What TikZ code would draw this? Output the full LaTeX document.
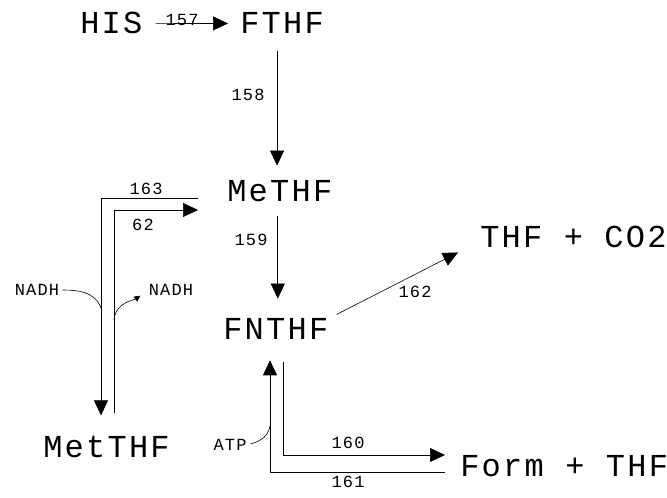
\documentclass[tikz,border=0pt]{standalone}
\usepackage{fontspec}
\newfontfamily\plotfont{Liberation Mono}[LetterSpace=7]
\newcommand{\bigplot}{\plotfont\fontsize{32}{32}\selectfont}
\newcommand{\smallplot}{\plotfont\fontsize{17}{17}\selectfont}
\usetikzlibrary{arrows.meta}

\begin{document}
\begin{tikzpicture}[x=1pt, y=1pt, line width=0.6pt,
      every node/.style={inner sep=0pt},
      chem/.style={font=\bigplot, anchor=base west},
      enz/.style={font=\smallplot},
      react/.style={-{Triangle[length=15pt, width=14pt]}},
      cofac/.style={-{Triangle[length=6pt, width=6pt]}}]
    \useasboundingbox (0,0) rectangle (667,498);
    \node[chem] (his) at (80,464) {HIS};
    \node[chem] (fthf) at (240,464) {FTHF};
    \node[chem] (methf) at (227,296) {MeTHF};
    \node[chem] (fnthf) at (223,158) {FNTHF};
    \node[chem] (thfco) at (480,250) {THF + CO2};
    \node[chem] (form) at (460,21) {Form + THF};
    \node[chem] (metthf) at (43,40) {MetTHF};
    \node[enz] (nadhL) at (37,208) {NADH};
    \node[enz] (nadhR) at (171,208) {NADH};
    \node[enz] (atp) at (230,53) {ATP};
    \coordinate (c163) at (101,300);
    \coordinate (c62) at (114,288);
    \coordinate (c160) at (283,43);
    \coordinate (c161) at (270,26);
    \coordinate (nadhin) at (101,190);
    \coordinate (nadhout) at (114,178);
    \coordinate (atpin) at (270,72);
    \draw[react, shorten <=13pt, shorten >=12pt] (his.east) -- (fthf.west);
    \draw[react, shorten <=17pt, shorten >=15pt] ([xshift=-5pt]fthf.south)
      -- ([xshift=-5pt]fthf.south |- methf.north);
    \draw[react, shorten <=13pt, shorten >=20pt] ([xshift=-2pt]methf.south)
      -- ([xshift=-2pt]methf.south |- fnthf.north);
    \draw[react] ([shift={(8pt,15pt)}]fnthf.east) -- ([shift={(-22pt,-15pt)}]thfco.west);
    \draw[react, shorten <=29pt, shorten >=21pt] (methf.west |- c163) -- (c163)
      -- (c163 |- metthf.north);
    \draw[react, shorten <=23pt, shorten >=29pt] (c62 |- metthf.north) -- (c62)
      -- (methf.west |- c62);
    \draw[react, shorten <=22pt, shorten >=15pt] (c160 |- fnthf.south) -- (c160)
      -- (form.west |- c160);
    \draw[react, shorten <=15pt, shorten >=20pt] (form.west |- c161) -- (c161)
      -- (c161 |- fnthf.south);
    \draw[shorten <=3pt] (nadhL.east) to[out=0, in=110] (nadhin);
    \draw[cofac, shorten >=10pt] (nadhout) to[out=85, in=215] (nadhR.west);
    \draw[shorten <=4pt] (atp.east) to[out=15, in=-100] (atpin);
    \node[enz] (l157) at (182,478) {157};
    \node[enz] (l158) at (248,403) {158};
    \node[enz] (l163) at (146,309) {163};
    \node[enz] (l62) at (143,273) {62};
    \node[enz] (l159) at (251,258) {159};
    \node[enz] (l162) at (415,206) {162};
    \node[enz] (l160) at (348,55) {160};
    \node[enz] (l161) at (348,16) {161};
  \end{tikzpicture}
\end{document}
